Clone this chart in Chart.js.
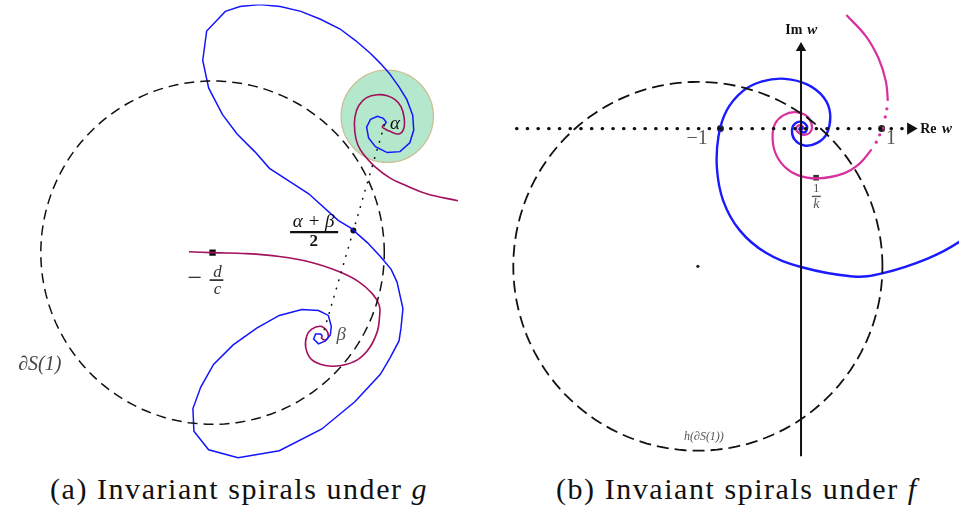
<!DOCTYPE html>
<html>
<head>
<meta charset="utf-8">
<script src="https://cdn.jsdelivr.net/npm/chart.js@4.4.1/dist/chart.umd.min.js"></script>
<style>
  html,body{margin:0;padding:0;background:#fff;width:966px;height:518px;overflow:hidden;}
  .panel{position:absolute;top:0;width:483px;height:470px;}
  #pa{left:0;} #pb{left:483px;}
  .cap{position:absolute;top:472px;font-family:"Liberation Serif","DejaVu Serif",serif;font-size:30px;color:#111;white-space:nowrap;letter-spacing:1.55px;}
  .cap i{font-style:italic;}
</style>
</head>
<body>
<div class="panel" id="pa"><canvas id="ca" width="483" height="470"></canvas></div>
<div class="panel" id="pb"><canvas id="cb" width="483" height="470"></canvas></div>
<div class="cap" id="capA" style="left:50px;">(a) Invariant spirals under <i>g</i></div>
<div class="cap" id="capB" style="left:556px;">(b) Invaiant spirals under <i>f</i></div>
<script>
const SERIF = '"Liberation Serif", "DejaVu Serif", serif';
// ---------- Panel (a): units relative to -d/c (y up) ----------
const aBlueSpiral = [[175,130],[177,133],[174,137],[168,139],[161,136],[157,128],[159,117],[166,108],[178,102],[191,103],[201,112],[205,125],[204,140],[198,156],[190,169],[180,183],[171,193],[161,203],[146,216],[130,228],[110,238],[90,246],[69,251],[48,253],[28,251],[13,246],[-6,226],[-10,196],[-4,168],[10,141],[25,121],[43,103],[58,86],[78,73],[98,60],[128,33],[141,25],[158,10],[171,-4],[182,-17],[188,-30],[194,-57],[192,-77],[190,-90],[181,-107],[171,-124],[145,-152],[111,-180],[68,-202],[26,-209],[-4,-201],[-19,-182],[-20,-159],[-12,-137],[1,-114],[21,-94],[45,-77],[68,-64],[91,-58],[108,-59],[118,-64],[121,-75],[120,-84],[115,-90],[108,-93],[103,-88],[105,-83],[110,-83],[112,-85]];
const aPurpleAlpha = [[175,131],[173,128],[176,126],[180,124],[190,121],[195,127],[195,139],[192,149],[186,156],[178,160],[168,161],[157,158],[149,150],[145,138],[145,123],[148,110],[154,100],[165,88],[181,76],[198,68],[218,60],[250,53]];
const aPurplePole = [[-24,1],[0,0],[35,-1],[68,-4],[101,-10],[128,-19],[148,-29],[163,-42],[170,-54],[170,-67],[168,-80],[160,-97],[148,-109],[131,-115],[115,-115],[101,-109],[95,-97],[96,-85],[101,-78],[110,-75],[116,-79],[118,-85],[115,-89],[111,-87],[112,-85]];
const aAlpha = [175,130];
const aBeta = [112,-85];
const aMid = [143.5,22.5];
const aPole = [0,0];
const aBoundary = {cx:0, cy:0, r:175};
const aDisk = {cx:178, cy:139, r:47};
const aLabels = [
  {t:'α', x:186, y:131, f:'italic 19px ' + SERIF, c:'#111'},
  {t:'β', x:131, y:-84, f:'italic 19px ' + SERIF, c:'#555'},
  {t:'α + β', x:103, y:31, f:'italic 19px ' + SERIF, c:'#111'},
  {t:'2', x:103, y:11, f:'bold 17px ' + SERIF, c:'#111'},
  {t:'−', x:-18, y:-27, f:'26px ' + SERIF, c:'#333'},
  {t:'d', x:5, y:-20, f:'italic 17px ' + SERIF, c:'#333'},
  {t:'c', x:5, y:-38, f:'italic 17px ' + SERIF, c:'#333'},
  {t:'∂S(1)', x:-176, y:-114, f:'italic 20px ' + SERIF, c:'#444'}
];
const aBars = [[79,128,21,2.2,'#111'],[-3,11,-28,1.8,'#333']];

// ---------- Panel (b): w-plane units ----------
const bBlueSpiral = [[2.15,-1.22],[1.969,-1.402],[1.563,-1.617],[1.005,-1.798],[0.643,-1.836],[0,-1.719],[-0.441,-1.539],[-0.763,-1.261],[-0.964,-0.9],[-1.043,-0.499],[-1.024,-0.096],[-0.923,0.224],[-0.723,0.465],[-0.482,0.586],[-0.2,0.618],[0.081,0.546],[0.282,0.386],[0.361,0.184],[0.322,-0.057],[0.201,-0.177],[0.041,-0.21],[-0.08,-0.137],[-0.112,-0.017],[-0.072,0.064],[0.008,0.084],[0.072,0.031],[0.06,-0.036],[0.02,-0.045],[-0.02,-0.01],[0,0.02],[0.015,0.005],[0,0]];
const bMagentaOuter = [[0.563,1.41],[0.804,1.148],[0.964,0.867],[1.053,0.586],[1.077,0.345]];
const bMagentaDots = [[1.065,0.245],[1.045,0.145],[1.017,0.004],[0.976,-0.077],[0.933,-0.169]];
const bMagentaInner = [[0.876,-0.258],[0.723,-0.439],[0.523,-0.559],[0.201,-0.619],[-0.04,-0.578],[-0.2,-0.478],[-0.32,-0.298],[-0.353,-0.096],[-0.32,0.064],[-0.22,0.164],[-0.08,0.205],[0.06,0.164],[0.129,0.064],[0.12,-0.036],[0.041,-0.077],[-0.048,-0.036],[-0.052,0.024],[0,0.043],[0.025,0.02],[0.02,-0.01],[0,-0.01],[0.005,0.005]];
const bReAxis = [[-3.53,0],[1.33,0]];
const bImAxis = [[0,-4.07],[0,1.0]];
const bUnitPoints = [[-1,0],[1,0]];
const bInvK = [0.187,-0.61];
const bBoundary = {cx:-1.28, cy:-1.71, r:2.29};
const bLabels = [
  {t:'Im', x:-0.09, y:1.22, f:'bold 14px ' + SERIF, c:'#111'},
  {t:'w', x:0.14, y:1.22, f:'italic bold 15px ' + SERIF, c:'#111'},
  {t:'Re', x:1.58, y:-0.01, f:'bold 14px ' + SERIF, c:'#111'},
  {t:'w', x:1.81, y:-0.01, f:'italic bold 15px ' + SERIF, c:'#111'},
  {t:'−1', x:-1.29, y:-0.13, f:'20px ' + SERIF, c:'#555'},
  {t:'1', x:1.115, y:-0.12, f:'20px ' + SERIF, c:'#555'},
  {t:'1', x:0.19, y:-0.745, f:'13px ' + SERIF, c:'#555'},
  {t:'k', x:0.19, y:-0.94, f:'italic 14px ' + SERIF, c:'#555'},
  {t:'h(∂S(1))', x:-1.205, y:-3.83, f:'italic 12px ' + SERIF, c:'#555'}
];
const bBars = [[0.135,0.245,-0.842,1.4,'#555']];

// ---------- helpers ----------
const pts = a => a.map(p => ({x:p[0], y:p[1]}));
function circlePts(c, n){ const o=[]; for(let i=0;i<=n;i++){const t=2*Math.PI*i/n; o.push({x:c.cx+c.r*Math.cos(t), y:c.cy+c.r*Math.sin(t)});} return o; }

const textPlugin = {
  id:'mathText',
  beforeDatasetsDraw(chart, args, opts){
    if(!opts.disk) return;
    const {ctx, scales:{x,y}} = chart; const d = opts.disk;
    const px = x.getPixelForValue(d.cx), py = y.getPixelForValue(d.cy);
    const r = Math.abs(x.getPixelForValue(d.cx + d.r) - px);
    ctx.save(); ctx.beginPath(); ctx.arc(px, py, r, 0, 2*Math.PI);
    ctx.fillStyle = '#b3e8cc'; ctx.fill(); ctx.lineWidth = 1.3; ctx.strokeStyle = '#cbbf95'; ctx.stroke(); ctx.restore();
  },
  afterDatasetsDraw(chart, args, opts){
    const {ctx, scales:{x,y}} = chart;
    ctx.save(); ctx.textAlign='center'; ctx.textBaseline='middle';
    (opts.labels||[]).forEach(l => { ctx.font = l.f; ctx.fillStyle = l.c; ctx.fillText(l.t, x.getPixelForValue(l.x), y.getPixelForValue(l.y)); });
    (opts.bars||[]).forEach(b => { ctx.beginPath(); ctx.lineWidth=b[3]; ctx.strokeStyle=b[4]; const yy=y.getPixelForValue(b[2]); ctx.moveTo(x.getPixelForValue(b[0]), yy); ctx.lineTo(x.getPixelForValue(b[1]), yy); ctx.stroke(); });
    ctx.restore();
  }
};

function baseOptions(xr, yr, plug){
  return {
    responsive:false, animation:false, events:[],
    layout:{padding:0},
    plugins:{legend:{display:false}, tooltip:{enabled:false}, title:{display:false}, mathText:plug},
    scales:{
      x:{type:'linear', min:xr[0], max:xr[1], display:false},
      y:{type:'linear', min:yr[0], max:yr[1], display:false}
    }
  };
}
const lineDs = (data, color, w, extra) => Object.assign({data, showLine:true, borderColor:color, borderWidth:w, pointRadius:0, fill:false, tension:0}, extra||{});

// Panel (a)
new Chart(document.getElementById('ca'), {
  type:'scatter',
  data:{datasets:[
    lineDs(circlePts(aBoundary, 180), '#111', 1.5, {borderDash:[10,6]}),
    lineDs(pts([aAlpha, aBeta]), '#111', 1.6, {borderDash:[0.5,8], borderCapStyle:'round'}),
    lineDs(pts(aBlueSpiral), '#1414ff', 1.5),
    lineDs(pts(aPurpleAlpha), '#a3105c', 1.6, {tension:0.4}),
    lineDs(pts(aPurplePole), '#a3105c', 1.6, {tension:0.4}),
    {data:pts([aMid]), showLine:false, pointRadius:3, backgroundColor:'#111', borderWidth:0},
    {data:pts([aPole]), showLine:false, pointStyle:'rect', pointRadius:4.5, backgroundColor:'#111', borderWidth:0}
  ]},
  options: baseOptions([-212, 271], [-217, 253], {labels:aLabels, bars:aBars, disk:aDisk}),
  plugins:[textPlugin]
});

// Panel (b)
new Chart(document.getElementById('cb'), {
  type:'scatter',
  data:{datasets:[
    lineDs(circlePts(bBoundary, 180), '#111', 1.8, {borderDash:[12,6]}),
    lineDs(pts(bReAxis), '#111', 3.2, {borderDash:[0.5,10.2], borderCapStyle:'round'}),
    lineDs(pts(bImAxis), '#111', 2),
    {data:[{x:1.36,y:0}], showLine:false, pointStyle:'triangle', rotation:90, pointRadius:7, backgroundColor:'#111', borderWidth:0},
    {data:[{x:0,y:1.0}], showLine:false, pointStyle:'triangle', rotation:0, pointRadius:6, backgroundColor:'#111', borderWidth:0},
    lineDs(pts(bBlueSpiral), '#1a1aff', 2.4, {tension:0.4}),
    lineDs(pts(bMagentaOuter), '#d8309e', 2.2, {tension:0.4}),
    {data:pts(bMagentaDots), showLine:false, pointRadius:1.6, backgroundColor:'#d8309e', borderWidth:0},
    lineDs(pts(bMagentaInner), '#d8309e', 2.2, {tension:0.4}),
    {data:pts(bUnitPoints), showLine:false, pointRadius:3.5, backgroundColor:'#222', borderWidth:0},
    {data:[{x:bBoundary.cx, y:bBoundary.cy}], showLine:false, pointRadius:1.6, backgroundColor:'#222', borderWidth:0},
    {data:pts([bInvK]), showLine:false, pointStyle:'rect', pointRadius:4, backgroundColor:'#333', borderWidth:0}
  ]},
  options: baseOptions([-3.859, 1.960], [-4.153, 1.510], {labels:bLabels, bars:bBars}),
  plugins:[textPlugin]
});
</script>
</body>
</html>
